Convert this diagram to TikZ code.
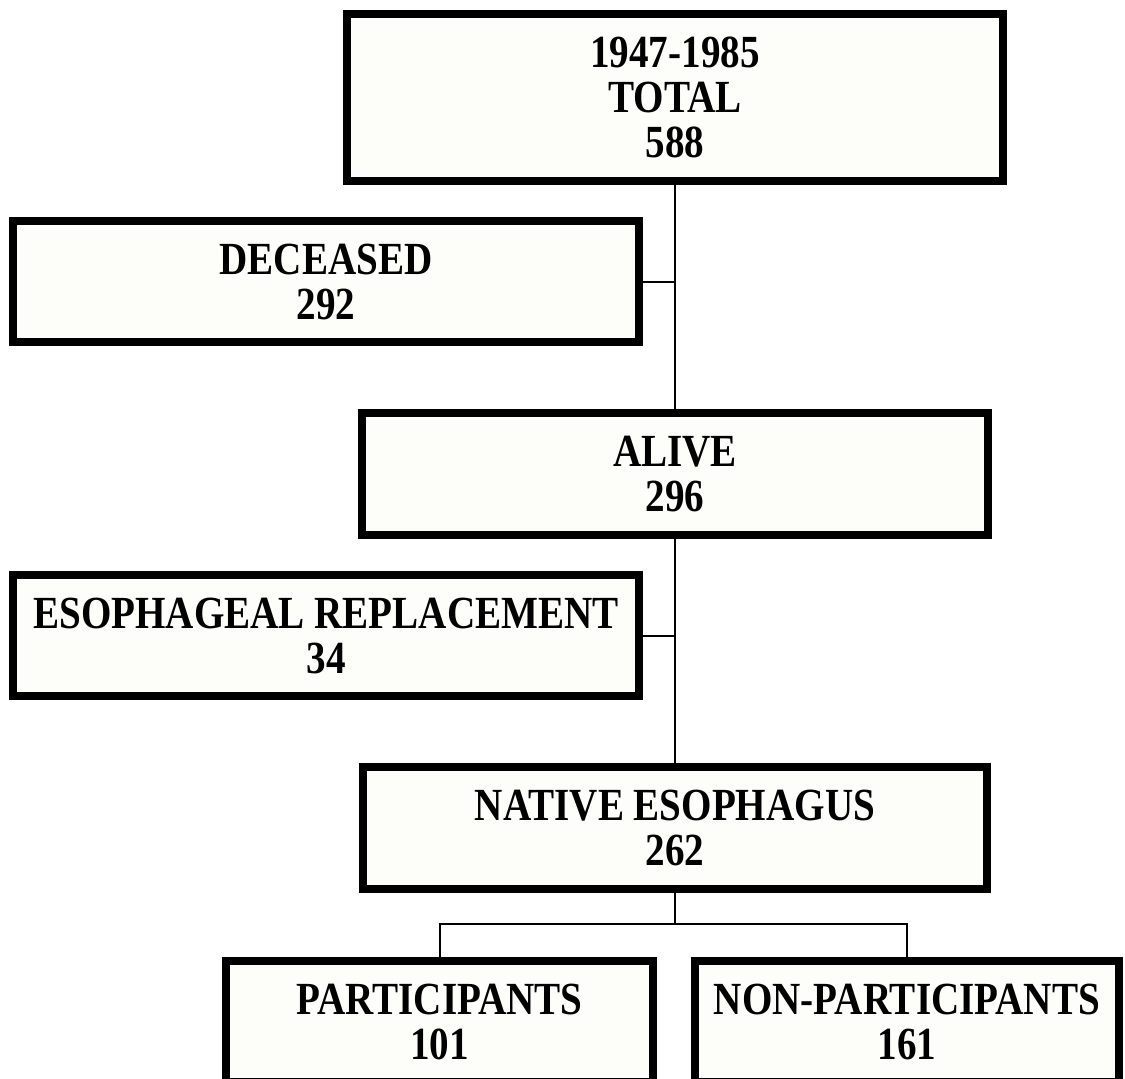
\documentclass[tikz,border=0pt]{standalone}
\usepackage{fontspec}
\setmainfont{Liberation Serif}[FakeStretch=0.85]
\definecolor{boxfill}{RGB}{253,253,250}
\begin{document}
\begin{tikzpicture}[x=1pt,y=-1pt,
  flowbox/.style={draw=black, line width=8pt, fill=boxfill, inner sep=0pt, outer sep=0pt,
    align=center, text=black, font=\fontsize{46}{45}\selectfont\bfseries},
  link/.style={draw=black, line width=2pt}]
\useasboundingbox[fill=white] (0,0) rectangle (1125,1079);
\node[flowbox, minimum width=656pt, minimum height=167pt] (top) at (675,97.5) {1947-1985\\TOTAL\\588};
\node[flowbox, minimum width=626pt, minimum height=121pt] (dec) at (326,281.5) {DECEASED\\292};
\node[flowbox, minimum width=626pt, minimum height=122pt] (alive) at (675,474) {ALIVE\\296};
\node[flowbox, minimum width=626pt, minimum height=121pt] (eso) at (326,635.5) {ESOPHAGEAL REPLACEMENT\\34};
\node[flowbox, minimum width=624pt, minimum height=122pt] (native) at (675,828) {NATIVE ESOPHAGUS\\262};
\node[flowbox, minimum width=427pt, minimum height=121pt] (part) at (439.5,1021.5) {PARTICIPANTS\\101};
\node[flowbox, minimum width=424pt, minimum height=121pt] (nonp) at (907,1021.5) {NON-PARTICIPANTS\\161};
\coordinate (bar) at (675,924);
\draw[link] ([yshift=-4pt]top.south) -- ([yshift=4pt]alive.north);
\draw[link] ([xshift=4pt]dec.east) -- (dec.east -| top.south);
\draw[link] ([yshift=-4pt]alive.south) -- ([yshift=4pt]native.north);
\draw[link] ([xshift=4pt]eso.east) -- (eso.east -| alive.south);
\draw[link] ([yshift=-4pt]native.south) -- (bar);
\draw[link] ([yshift=4pt]part.north) |- (bar) -| ([yshift=4pt]nonp.north);
\end{tikzpicture}
\end{document}
